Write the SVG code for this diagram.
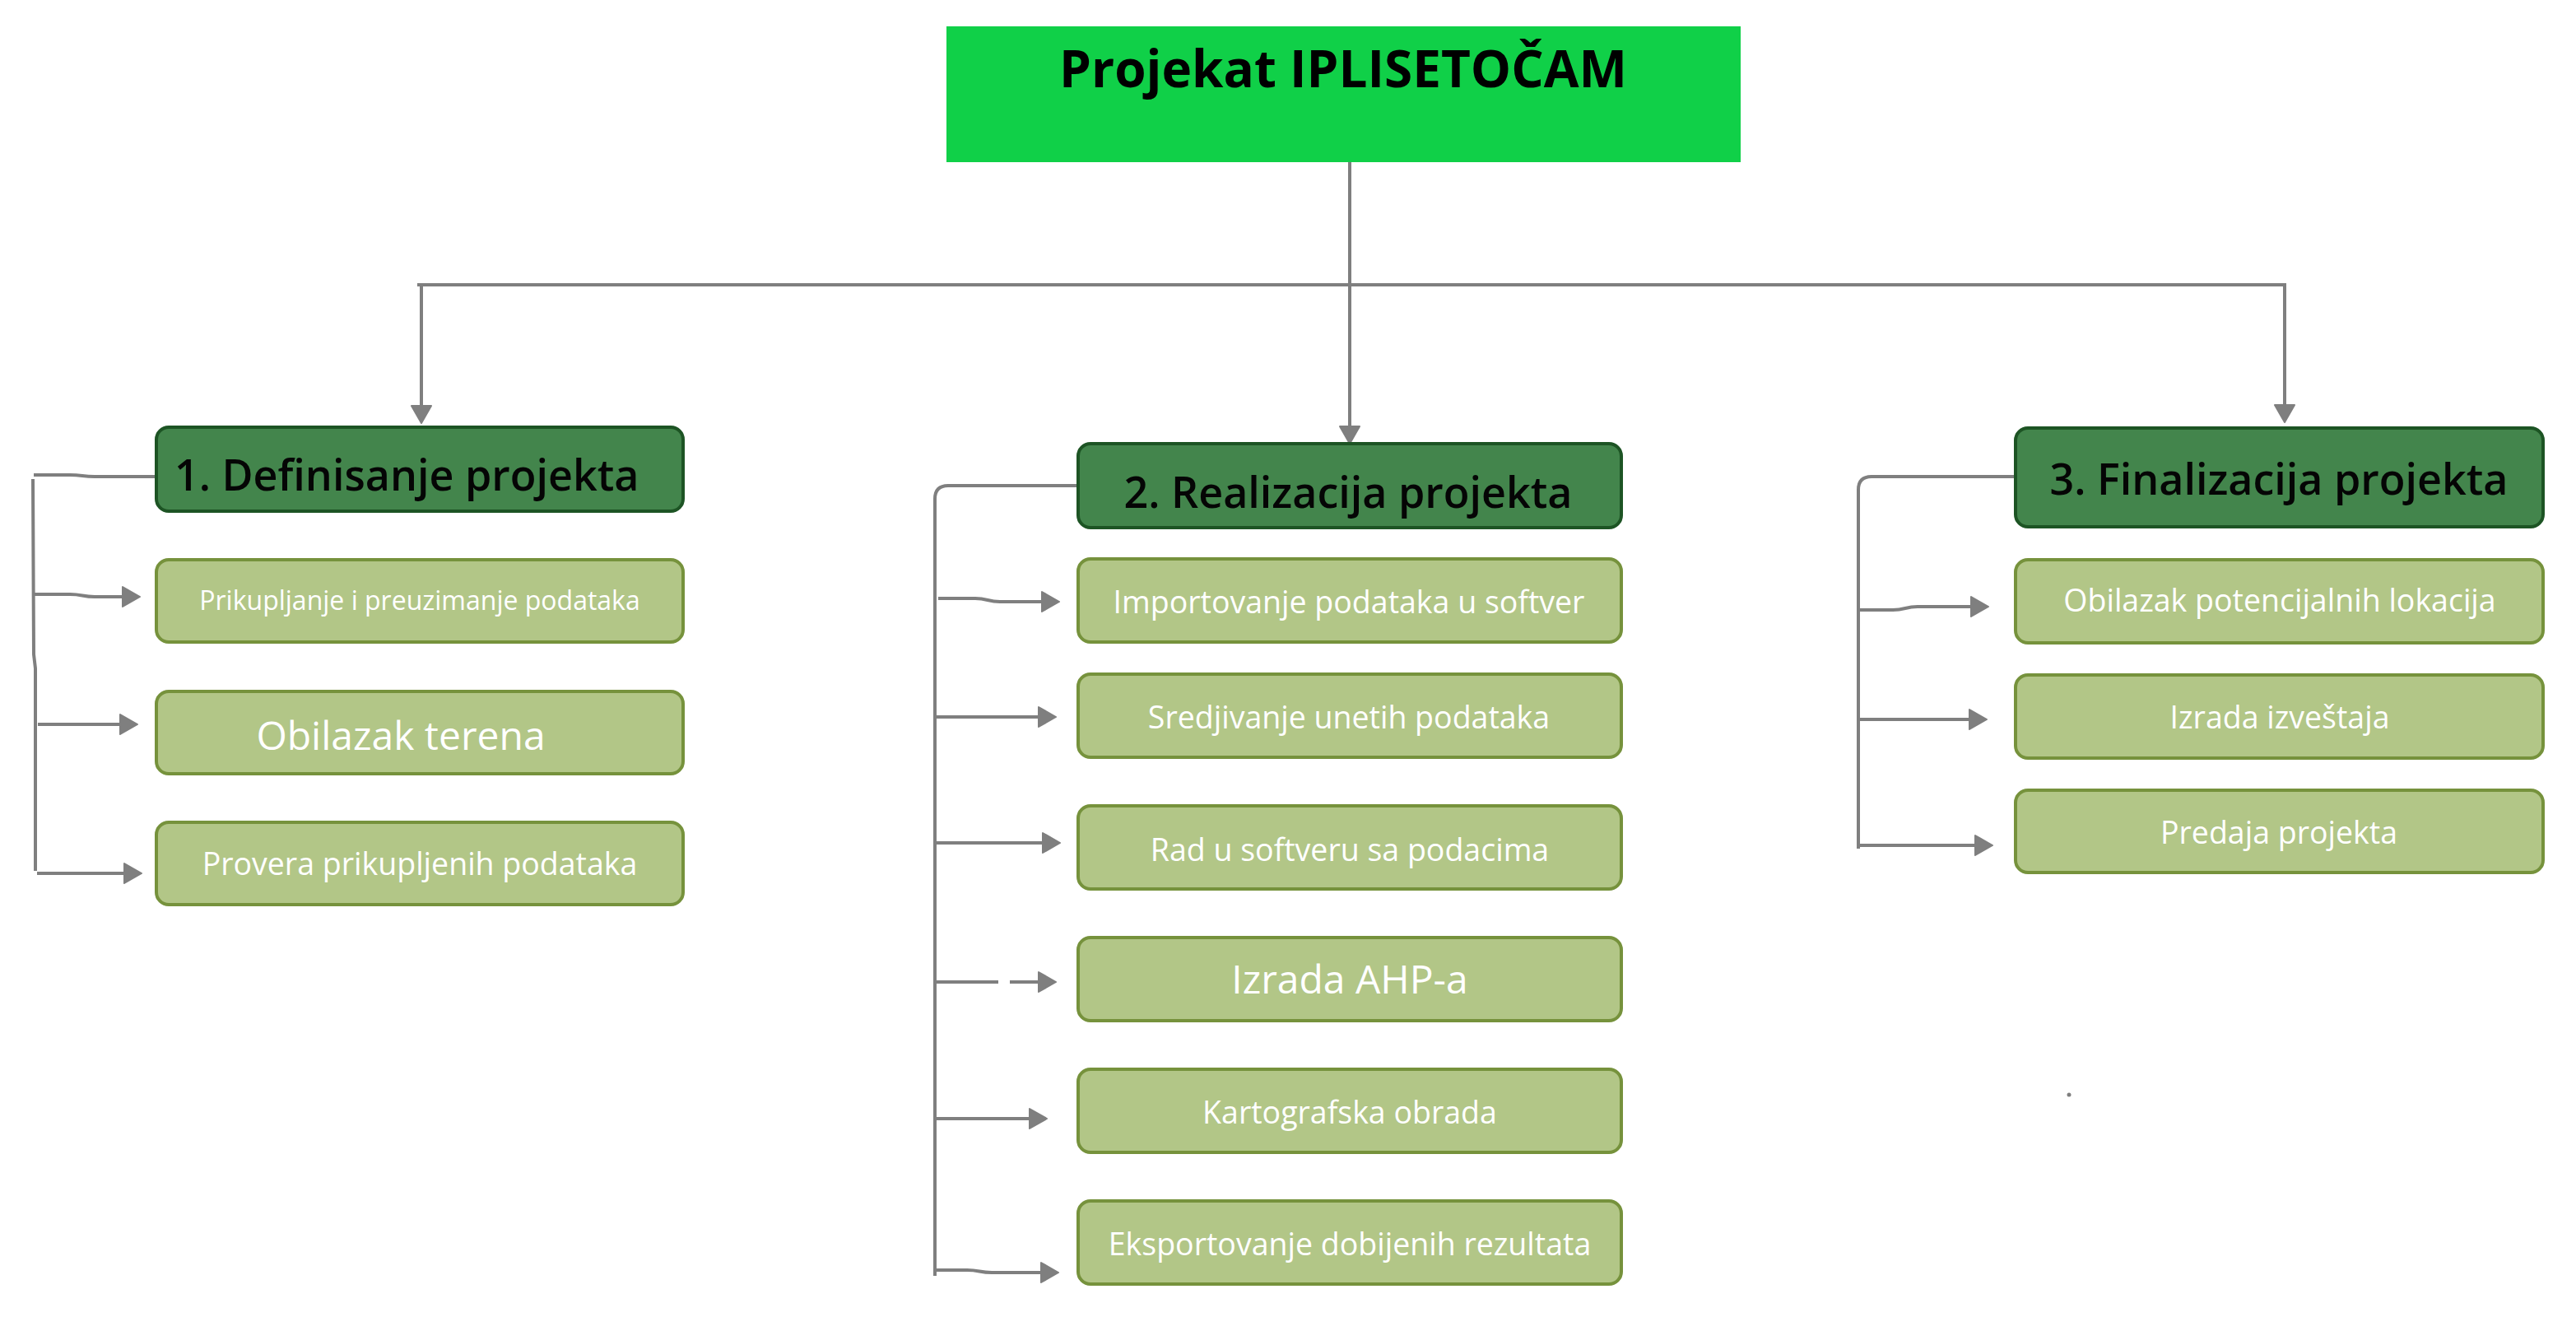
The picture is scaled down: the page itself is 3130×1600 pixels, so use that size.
<svg xmlns="http://www.w3.org/2000/svg" width="3130" height="1600" viewBox="0 0 3130 1600">
<defs>
<marker id="ah" markerUnits="userSpaceOnUse" markerWidth="24" markerHeight="28" refX="0" refY="13" orient="auto" viewBox="0 0 24 28">
<path d="M1,1 L22,13 L1,25 Z" fill="#7f7f7f" stroke="#7f7f7f" stroke-width="2" stroke-linejoin="round"/>
</marker>
<style>
.top{fill:#10d048;}
.title{font-family:"Open Sans","Noto Sans",sans-serif;font-weight:700;font-size:62px;fill:#000;text-anchor:middle;}
.hdr{fill:#43854c;stroke:#1d5424;stroke-width:4;}
.sub{fill:#b2c687;stroke:#76923c;stroke-width:4;}
.ht{font-family:"Open Sans","Noto Sans",sans-serif;font-weight:600;font-size:52px;fill:#050505;text-anchor:middle;}
.st{font-family:"Open Sans","Noto Sans",sans-serif;font-size:37.5px;fill:#ffffff;text-anchor:middle;}
.c{fill:none;stroke:#7f7f7f;stroke-width:4;}
.a{fill:none;stroke:#7f7f7f;stroke-width:4;marker-end:url(#ah);}
</style>
</defs>
<g id="connectors">
<path class="c" d="M1640,197 L1640,346"/>
<path class="c" d="M507,346 L2778,346"/>
<path class="a" d="M1640,346 L1640,517"/>
<path class="a" d="M512,346 L512,492"/>
<path class="a" d="M2776,346 L2776,491"/>
<path class="c" d="M190,579 L115,579 C100,579 100,577 85,577 L41,577"/>
<path class="c" d="M40,582 L41,795 L43,812 L43,1058"/>
<path class="a" d="M41,722 L85,722 C100,722 100,725 115,725 L148,725"/>
<path class="a" d="M46,880 L145,880"/>
<path class="a" d="M45,1061 L150,1061"/>
<path class="c" d="M1310,590 L1152,590 Q1136,590 1136,606 L1136,1550"/>
<path class="a" d="M1140,727 L1185,727 C1200,727 1200,731 1215,731 L1265,731"/>
<path class="a" d="M1138,871 L1261,871"/>
<path class="a" d="M1138,1024 L1266,1024"/>
<path class="c" d="M1138,1193 L1213,1193"/>
<path class="a" d="M1227,1193 L1261,1193"/>
<path class="a" d="M1138,1359 L1250,1359"/>
<path class="a" d="M1138,1543 L1175,1543 C1190,1543 1190,1546 1205,1546 L1264,1546"/>
<path class="c" d="M2449,579 L2274,579 Q2258,579 2258,595 L2258,1031"/>
<path class="a" d="M2258,741 L2300,741 C2315,741 2315,737 2330,737 L2394,737"/>
<path class="a" d="M2258,874 L2392,874"/>
<path class="a" d="M2258,1027 L2399,1027"/>
</g>
<g id="root">
<rect class="top" x="1150" y="32" width="965" height="165"/>
<text class="title" x="1632" y="106">Projekat IPLISETOČAM</text>
</g>
<g id="h1">
<rect class="hdr" x="190" y="519" width="640" height="102" rx="15"/>
<text class="ht" x="212" y="596" style="text-anchor:start">1. Definisanje projekta</text>
</g>
<g id="n1a">
<rect class="sub" x="190" y="680" width="640" height="100" rx="15"/>
<text class="st" x="510" y="741" style="font-size:32px">Prikupljanje i preuzimanje podataka</text>
</g>
<g id="n1b">
<rect class="sub" x="190" y="840" width="640" height="100" rx="15"/>
<text class="st" x="487" y="911" style="font-size:48px">Obilazak terena</text>
</g>
<g id="n1c">
<rect class="sub" x="190" y="999" width="640" height="100" rx="15"/>
<text class="st" x="510" y="1063">Provera prikupljenih podataka</text>
</g>
<g id="h2">
<rect class="hdr" x="1310" y="539" width="660" height="102" rx="15"/>
<text class="ht" x="1638" y="617">2. Realizacija projekta</text>
</g>
<g id="n2a">
<rect class="sub" x="1310" y="679" width="660" height="101" rx="15"/>
<text class="st" x="1639" y="745">Importovanje podataka u softver</text>
</g>
<g id="n2b">
<rect class="sub" x="1310" y="819" width="660" height="101" rx="15"/>
<text class="st" x="1639" y="885">Sredjivanje unetih podataka</text>
</g>
<g id="n2c">
<rect class="sub" x="1310" y="979" width="660" height="101" rx="15"/>
<text class="st" x="1640" y="1046">Rad u softveru sa podacima</text>
</g>
<g id="n2d">
<rect class="sub" x="1310" y="1139" width="660" height="101" rx="15"/>
<text class="st" x="1640" y="1207" style="font-size:48px">Izrada AHP-a</text>
</g>
<g id="n2e">
<rect class="sub" x="1310" y="1299" width="660" height="101" rx="15"/>
<text class="st" x="1640" y="1365">Kartografska obrada</text>
</g>
<g id="n2f">
<rect class="sub" x="1310" y="1459" width="660" height="101" rx="15"/>
<text class="st" x="1640" y="1525">Eksportovanje dobijenih rezultata</text>
</g>
<g id="h3">
<rect class="hdr" x="2449" y="520" width="641" height="120" rx="15"/>
<text class="ht" x="2769" y="601">3. Finalizacija projekta</text>
</g>
<g id="n3a">
<rect class="sub" x="2449" y="680" width="641" height="101" rx="15"/>
<text class="st" x="2770" y="743">Obilazak potencijalnih lokacija</text>
</g>
<g id="n3b">
<rect class="sub" x="2449" y="820" width="641" height="101" rx="15"/>
<text class="st" x="2770" y="885">Izrada izveštaja</text>
</g>
<g id="n3c">
<rect class="sub" x="2449" y="960" width="641" height="100" rx="15"/>
<text class="st" x="2769" y="1025">Predaja projekta</text>
</g>
<circle cx="2514" cy="1330" r="2.5" fill="#7f7f7f"/>
</svg>
